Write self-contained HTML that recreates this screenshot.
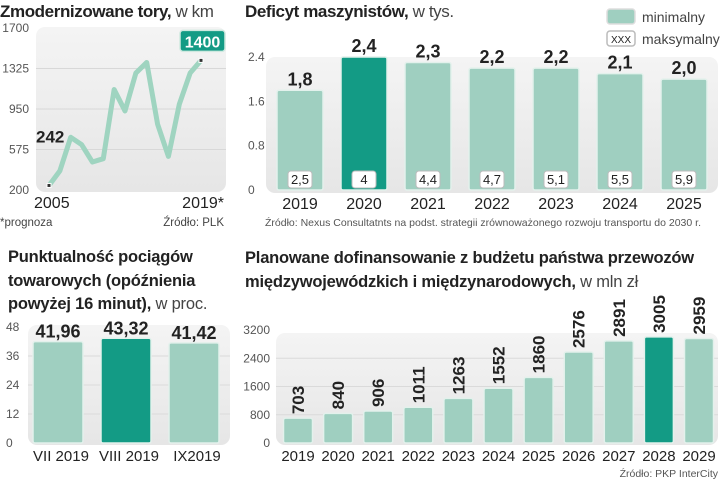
<!DOCTYPE html>
<html><head><meta charset="utf-8"><style>
body{margin:0;background:#fff}
svg{display:block;font-family:"Liberation Sans",sans-serif}
.b{font-weight:bold}
.t{fill:#222}
.ax{font-size:12px;fill:#555}
</style></head><body>
<svg id="s" width="720" height="480" viewBox="0 0 720 480">
<defs>
<linearGradient id="bg" x1="0" y1="0" x2="0" y2="1"><stop offset="0" stop-color="#f4f4f4"/><stop offset="1" stop-color="#e6e6e6"/></linearGradient>
</defs>
<!-- Panel 1 -->
<text x="0" y="17" font-size="17" class="b t" letter-spacing="-0.4">Zmodernizowane tory,<tspan font-weight="normal" fill="#444"> w km</tspan></text>
<rect x="36" y="27" width="190" height="165" rx="9" fill="url(#bg)"/>
<g id="p1"></g>
<text x="34" y="208" font-size="16" class="t">2005</text>
<text x="224" y="208" font-size="16" class="t" text-anchor="end">2019*</text>
<text x="0" y="226" font-size="11.5" fill="#444">*prognoza</text>
<text x="224" y="226" font-size="11.5" fill="#444" text-anchor="end">Źródło: PLK</text>
<!-- Panel 2 -->
<text x="245" y="17" font-size="17" class="b t" letter-spacing="-0.4">Deficyt maszynistów,<tspan font-weight="normal" fill="#444"> w tys.</tspan></text>
<rect x="607" y="9" width="28" height="15" rx="3" fill="#9fcfc0" stroke="#ddd" stroke-width="1.5"/>
<text x="642" y="22" font-size="14" fill="#444">minimalny</text>
<rect x="607" y="31" width="28" height="15" rx="3" fill="#fff" stroke="#bbb" stroke-width="1.5"/>
<text x="621" y="43" font-size="10" fill="#222" text-anchor="middle">XXX</text>
<text x="642" y="44" font-size="14" fill="#444">maksymalny</text>
<rect x="266" y="57" width="452" height="136" rx="9" fill="url(#bg)"/>
<g id="p2"></g>
<text x="265" y="226" font-size="10.5" fill="#555">Źródło: Nexus Consultatnts na podst. strategii zrównoważonego rozwoju transportu do 2030 r.</text>
<!-- Panel 3 -->
<text x="8" y="262" font-size="16.5" class="b t" letter-spacing="-0.2">Punktualność pociągów</text>
<text x="8" y="286" font-size="16.5" class="b t" letter-spacing="-0.2">towarowych (opóźnienia</text>
<text x="8" y="309" font-size="16.5" class="b t" letter-spacing="-0.2">powyżej 16 minut),<tspan font-weight="normal" fill="#444"> w proc.</tspan></text>
<rect x="28" y="325" width="202" height="120" rx="9" fill="url(#bg)"/>
<g id="p3"></g>
<!-- Panel 4 -->
<text x="245" y="263" font-size="16.5" class="b t" letter-spacing="-0.2">Planowane dofinansowanie z budżetu państwa przewozów</text>
<text x="245" y="287" font-size="16.5" class="b t" letter-spacing="-0.2">międzywojewódzkich i międzynarodowych,<tspan font-weight="normal" fill="#444"> w mln zł</tspan></text>
<rect x="276" y="333" width="442" height="112" rx="9" fill="url(#bg)"/>
<g id="p4"></g>
<text x="718" y="477" font-size="10.5" fill="#555" text-anchor="end">Źródło: PKP InterCity</text>
</svg>
<script>
const NS="http://www.w3.org/2000/svg";
function mk(p,tag,a,txt){const e=document.createElementNS(NS,tag);for(const k in a)e.setAttribute(k,a[k]);if(txt!==undefined)e.textContent=txt;document.getElementById(p).appendChild(e);return e;}
const LIGHT="#9fcfc0",DARK="#139b85";

// Panel 1 data
const trackYears=[2005,2006,2007,2008,2009,2010,2011,2012,2013,2014,2015,2016,2017,2018,2019];
const trackKm=[242,377,688,621,459,490,1130,932,1283,1381,810,511,993,1283,1400];
const trackTicks=[200,575,950,1325,1700];
const x1=i=>49+i*(152/(trackYears.length-1));
const y1=v=>190-(v-200)/1500*162;
trackTicks.forEach(t=>{
 if(t>200&&t<1700){let g=mk('p1','line',{x1:36,x2:226,y1:y1(t),y2:y1(t),stroke:"#d8d8d8","stroke-width":1});
 
 }
 let e=mk('p1','text',{x:29,y:y1(t)+4,"text-anchor":"end",class:"ax"},t);
 
 
});
let pl=mk('p1','polyline',{points:trackKm.map((v,i)=>x1(i)+","+y1(v)).join(" "),fill:"none",stroke:"#9fd4c0","stroke-width":5,"stroke-linejoin":"round"});


[0,trackKm.length-1].forEach(i=>{
 let d=mk('p1','rect',{x:x1(i)-2,y:y1(trackKm[i])-2,width:4,height:4,fill:"#333",stroke:"#fff","stroke-width":1});
 
 
});
let l0=mk('p1','text',{x:36,y:y1(trackKm[0])-43,"font-size":17,class:"b t"},trackKm[0]);


let lb=mk('p1','rect',{x:180,y:y1(trackKm[14])-30,width:45,height:21,rx:3,fill:DARK,stroke:"#cfe9e0","stroke-width":1.5});


let l1=mk('p1','text',{x:202.5,y:y1(trackKm[14])-13,"font-size":16,"text-anchor":"middle",class:"b",fill:"#fff"},trackKm[14]);



// Panel 2 data
const defYears=["2019","2020","2021","2022","2023","2024","2025"];
const defMin=[1.8,2.4,2.3,2.2,2.2,2.1,2.0];
const defMax=["2,5","4","4,4","4,7","5,1","5,5","5,9"];
const defTicks=[0,0.8,1.6,2.4];
const defHi=1;
const x2=i=>300+i*64;
const y2=v=>190-v/2.4*133;
defTicks.forEach(t=>{
 let e=mk('p2','text',{x:248,y:y2(t)+4,class:"ax"},t);
 
 
});
defMin.forEach((v,i)=>{
 let r=mk('p2','rect',{x:x2(i)-23,y:y2(v),width:46,height:y2(0)-y2(v),rx:2,fill:i==defHi?DARK:LIGHT,stroke:"#e3f1ec","stroke-width":1.5});
 
 
 let t=mk('p2','text',{x:x2(i),y:y2(v)-5,"font-size":18,"text-anchor":"middle",class:"b t"},String(v.toFixed(1)).replace('.',','));
 
 
 let b=mk('p2','rect',{x:x2(i)-12,y:171,width:24,height:17,rx:3,fill:"#fff",stroke:"#bbb","stroke-width":1});
 
 
 let m=mk('p2','text',{x:x2(i),y:184,"font-size":13,"text-anchor":"middle",fill:"#222"},defMax[i]);
 
 
 let xl=mk('p2','text',{x:x2(i),y:209,"font-size":16,"text-anchor":"middle",fill:"#222"},defYears[i]);
 
 
});

// Panel 3 data
const punctMonths=["VII 2019","VIII 2019","IX2019"];
const punctVals=[41.96,43.32,41.42];
const punctTicks=[0,12,24,36,48];
const punctHi=1;
const x3=i=>58+i*68;
const y3=v=>443-v/48*116;
punctTicks.forEach(t=>{
 if(t>0&&t<48){let g=mk('p3','line',{x1:28,x2:230,y1:y3(t),y2:y3(t),stroke:"#dadada"});
 
 }
 let e=mk('p3','text',{x:6,y:y3(t)+4,class:"ax"},t);
 
 
});
punctVals.forEach((v,i)=>{
 let r=mk('p3','rect',{x:x3(i)-25,y:y3(v),width:50,height:y3(0)-y3(v),rx:2,fill:i==punctHi?DARK:LIGHT,stroke:"#e3f1ec","stroke-width":1.5});
 
 
 let t=mk('p3','text',{x:x3(i),y:y3(v)-4,"font-size":18,"text-anchor":"middle",class:"b t"},v.toFixed(2).replace('.',','));
 
 
 let xl=mk('p3','text',{x:x3(i)+3,y:461,"font-size":15,"text-anchor":"middle",fill:"#222"},punctMonths[i]);
 
 
});

// Panel 4 data
const subYears=["2019","2020","2021","2022","2023","2024","2025","2026","2027","2028","2029"];
const subVals=[703,840,906,1011,1263,1552,1860,2576,2891,3005,2959];
const subTicks=[0,800,1600,2400,3200];
const subHi=9;
const x4=i=>298+i*40.1;
const y4=v=>443-v/3200*113;
subTicks.forEach(t=>{
 if(t>0&&t<3200){let g=mk('p4','line',{x1:276,x2:718,y1:y4(t),y2:y4(t),stroke:"#dadada"});
 
 }
 let e=mk('p4','text',{x:270,y:y4(t)+4,"text-anchor":"end",class:"ax"},t);
 
 
});
subVals.forEach((v,i)=>{
 let r=mk('p4','rect',{x:x4(i)-14.5,y:y4(v),width:29,height:y4(0)-y4(v),rx:2,fill:i==subHi?DARK:LIGHT,stroke:"#e3f1ec","stroke-width":1.5});
 
 
 const ty=y4(v)-4;
 let t=mk('p4','text',{x:x4(i)+6,y:ty,"font-size":17,class:"b t",transform:"rotate(-90 "+(x4(i)+6)+" "+ty+")"},v);
 
 
 let xl=mk('p4','text',{x:x4(i),y:461,"font-size":15,"text-anchor":"middle",fill:"#222"},subYears[i]);
 
 
});
</script>
</body></html>
